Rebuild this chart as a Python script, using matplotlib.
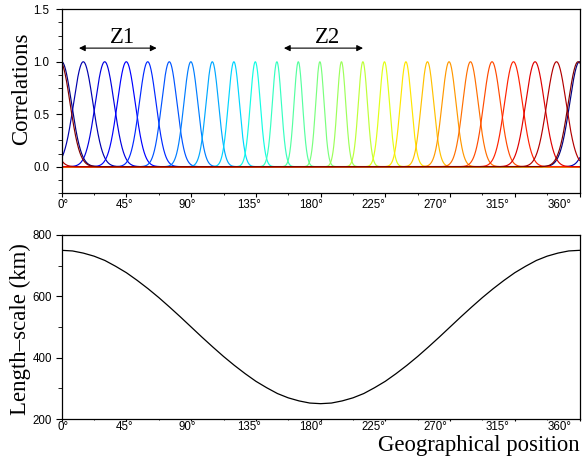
import numpy as np
import matplotlib.pyplot as plt
from matplotlib import transforms
from matplotlib.ticker import MultipleLocator

plt.rcParams['font.family'] = 'Liberation Sans'
SERIF = 'Liberation Serif'

# centres of the correlation functions (degrees)
centers = [0.0, 15.0, 29.9, 44.9, 59.8, 74.8, 89.8, 104.7, 119.7, 134.6, 149.6,
           164.5, 179.5, 194.5, 209.4, 224.4, 239.3, 254.3, 269.3, 284.2, 299.2,
           314.1, 329.1, 344.0, 359.0]
# correlation length (degrees) of each function
corr_len = [6.80, 6.73, 6.54, 6.23, 5.83, 5.35, 4.85, 4.35, 3.88, 3.47, 3.16,
            2.97, 2.90, 2.97, 3.16, 3.47, 3.88, 4.35, 4.85, 5.35, 5.83, 6.23,
            6.54, 6.73, 6.80]
# length-scale (km), every 7.5 degrees
ls_pos = [0, 7.5, 15, 22.5, 30, 37.5, 45, 52.5, 60, 67.5, 75, 82.5, 90, 97.5,
          105, 112.5, 120, 127.5, 135, 142.5, 150, 157.5, 165, 172.5, 180,
          187.5, 195, 202.5, 210, 217.5, 225, 232.5, 240, 247.5, 255, 262.5,
          270, 277.5, 285, 292.5, 300, 307.5, 315, 322.5, 330, 337.5, 345,
          352.5, 360]
ls_km = [750, 748, 741, 731, 717, 698, 677, 652, 625, 596, 565, 533, 500, 467,
         435, 404, 375, 348, 323, 302, 283, 269, 259, 252, 250, 252, 259, 269,
         283, 302, 323, 348, 375, 404, 435, 467, 500, 533, 565, 596, 625, 652,
         677, 698, 717, 731, 741, 748, 750]

zone_names = ['Z1', 'Z2']
zone_text_x = [42.0, 185.0]
zone_from = [12.0, 154.5]
zone_to = [66.0, 209.5]

tick_deg = [0, 45, 90, 135, 180, 225, 270, 315, 360]

fig = plt.figure(figsize=(5.83, 4.58), dpi=100)
ax1 = fig.add_axes([61.7/583, 1-192.9/458, (579.5-61.7)/583, (192.9-9.3)/458])
ax2 = fig.add_axes([61.7/583, 1-419/458, (579.5-61.7)/583, (419-235)/458])

x = np.linspace(0, 360, 2881)
cmap = plt.get_cmap('jet')
for c, L in zip(centers, corr_len):
    d = np.abs(x - c)
    d = np.minimum(d, 360 - d)
    corr = np.exp(-0.5 * (d / L) ** 2)
    ax1.plot(x, corr, color=cmap(c / 360.0), lw=0.85)

for name, tx, a, b in zip(zone_names, zone_text_x, zone_from, zone_to):
    ax1.annotate('', xy=(b, 1.13), xytext=(a, 1.13),
                 arrowprops=dict(arrowstyle='<|-|>', color='black', lw=0.8,
                                 mutation_scale=9, shrinkA=0, shrinkB=0))
    ax1.text(tx, 1.175, name, family=SERIF, fontsize=16.4, ha='center',
             va='baseline')

ax1.set_ylim(-0.25, 1.5)
ax1.yaxis.set_minor_locator(MultipleLocator(0.125))
ax1.set_yticks([0.0, 0.5, 1.0, 1.5], ['0.0', '0.5', '1.0', '1.5'])

ax2.plot(ls_pos, ls_km, color='black', lw=0.9)
ax2.set_ylim(200, 800)
ax2.yaxis.set_major_locator(MultipleLocator(200))
ax2.yaxis.set_minor_locator(MultipleLocator(100))

for ax, gap, tlen, ypad in [(ax1, 6.5, 3.5, 5), (ax2, 1.5, 2.2, 3)]:
    ax.set_xlim(0, 360)
    ax.xaxis.set_major_locator(MultipleLocator(45))
    ax.xaxis.set_minor_locator(MultipleLocator(22.5))
    ax.tick_params(which='major', length=4, width=0.8, labelsize=8.3,
                   labelbottom=False, pad=ypad)
    ax.tick_params(which='minor', length=3, width=0.6)
    ax.tick_params(axis='x', which='major', length=tlen * 72 / 100)
    ax.tick_params(axis='x', which='minor', length=tlen * 0.5 * 72 / 100)
    for s in ax.spines.values():
        s.set_linewidth(0.9)
    trans = transforms.offset_copy(ax.get_xaxis_transform(), fig=fig,
                                   x=0, y=-gap, units='dots')
    for t in tick_deg:
        ax.text(t * 0.96 + 0.7, 0, '%d\u00b0' % t, transform=trans,
                ha='center', va='top', fontsize=8.3)

fig.text(21.5/583, 1-88.5/458, 'Correlations', family=SERIF, fontsize=16.4,
         rotation=90, ha='center', va='center')
fig.text(20.5/583, 1-329/458, 'Length\u2013scale (km)', family=SERIF,
         fontsize=16.4, rotation=90, ha='center', va='center')
fig.text(580/583, 1-451/458, 'Geographical position', family=SERIF,
         fontsize=16.4, ha='right', va='baseline')

fig.savefig('out.png', dpi=100)
